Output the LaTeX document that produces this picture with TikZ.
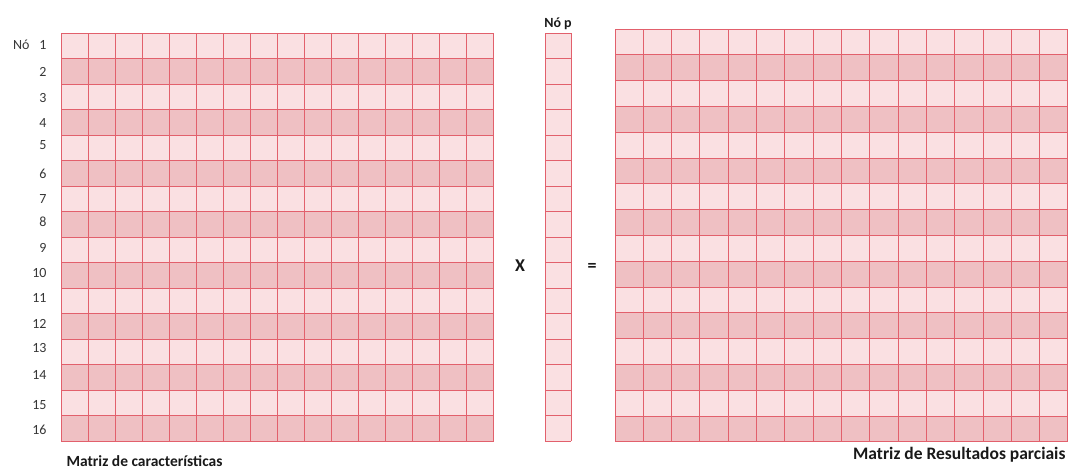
\documentclass[tikz,border=0pt]{standalone}
\usepackage{fontspec}
\setmainfont{Carlito}
\definecolor{celllight}{RGB}{250,224,226}
\definecolor{celldark}{RGB}{239,192,195}
\definecolor{gridred}{RGB}{226,96,108}
\definecolor{labelgray}{RGB}{55,55,55}
\usetikzlibrary{positioning}

\begin{document}
\begin{tikzpicture}[x=1pt, y=-1pt]
    \useasboundingbox[fill=white] (0,0) rectangle (1072,469);
    \tikzset{gridline/.style={gridred, line width=1pt},
             rowlabel/.style={font=\fontsize{14}{15}\selectfont, text=labelgray, anchor=east},
             caption/.style={font=\fontsize{15.5}{16}\selectfont\bfseries, text=black!90}}

    % Left matrix (16 x 16)
    \foreach \r in {0,...,15} {
        \pgfmathsetmacro{\ya}{33+25.5*\r}
        \ifodd\r \def\rowfill{celldark}\else\def\rowfill{celllight}\fi
        \fill[\rowfill] (61,\ya) rectangle (494,\ya+25.5);
    }
    \foreach \c in {0,...,16} {
        \draw[gridline] (61+27.06*\c, 33) -- (61+27.06*\c, 441);
    }
    \foreach \r in {0,...,16} {
        \draw[gridline] (61, 33+25.5*\r) -- (494, 33+25.5*\r);
    }

    % Row numbers
    \node[rowlabel] (no) at (33,45) {Nó};
    \foreach \n/\y in {1/45, 2/72, 3/98, 4/123, 5/145, 6/174, 7/199, 8/222, 9/248, 10/273, 11/298, 12/324, 13/348, 14/375, 15/405, 16/430} {
        \node[rowlabel] (row\n) at (50,\y) {\n};
    }

    % Vector of node p
    \fill[celllight] (545,33) rectangle (571,441);
    \foreach \r in {0,...,16} {
        \draw[gridline] (545, 33+25.5*\r) -- (571, 33+25.5*\r);
    }
    \draw[gridline] (545,33) -- (545,441);
    \draw[gridline] (571,33) -- (571,441);
    \node[font=\fontsize{14}{15}\selectfont\bfseries, text=black!90] (nop) at (558,24) {Nó p};

    % Operators
    \node[font=\fontsize{18}{19}\selectfont\bfseries, text=black!90] (times) at (520,266) {X};
    \node[font=\fontsize{18}{19}\selectfont\bfseries, text=black!90] (equals) at (592,267) {=};

    % Right matrix (16 x 16)
    \foreach \r in {0,...,15} {
        \pgfmathsetmacro{\ya}{29+25.8*\r}
        \ifodd\r \def\rowfill{celldark}\else\def\rowfill{celllight}\fi
        \fill[\rowfill] (615,\ya) rectangle (1068,\ya+25.8);
    }
    \foreach \c in {0,...,16} {
        \draw[gridline] (615+28.31*\c, 29) -- (615+28.31*\c, 442);
    }
    \foreach \r in {0,...,16} {
        \draw[gridline] (615, 29+25.8*\r) -- (1068, 29+25.8*\r);
    }

    % Labels
    \node[caption, anchor=west] (leftcap) at (63,461) {Matriz de características};
    \node[caption, anchor=east, font=\fontsize{17.5}{18}\selectfont\bfseries] (rightcap) at (1069,455) {Matriz de Resultados parciais};
\end{tikzpicture}
\end{document}
